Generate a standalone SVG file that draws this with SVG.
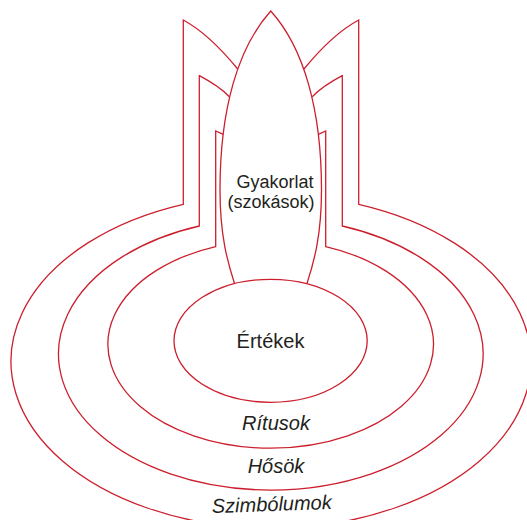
<svg xmlns="http://www.w3.org/2000/svg" width="527" height="520" viewBox="0 0 527 520">
  <style>
    .line { fill: none; stroke: #cc1f2d; stroke-width: 1.3; stroke-linejoin: miter; }
    .label { font-family: "Liberation Sans", Arial, sans-serif; fill: #231f20; text-anchor: middle; }
    .ring { font-style: italic; font-size: 20px; }
  </style>
  <rect width="527" height="520" fill="#ffffff"/>

  <!-- outermost layer: symbols -->
  <g id="symbols">
    <path class="line" d="M237.7,69 Q209,34 183.3,20 L183.3,204.3 A260,166.8 0 1 0 358.7,204.3 L358.7,20 Q332.6,34 304,69"/>
    <text class="label ring" x="272" y="511" font-size="20.5" transform="rotate(-2 272 511)">Szimbólumok</text>
  </g>

  <!-- second layer: heroes -->
  <g id="heroes">
    <path class="line" d="M229.3,96.7 Q219,86 199.3,75.7 L199.3,226 A212.3,136 0 1 0 342.3,226 L342.3,75.7 Q322.6,86 312.3,96.7"/>
    <text class="label ring" x="276" y="473.3">Hősök</text>
  </g>

  <!-- third layer: rituals -->
  <g id="rituals">
    <path class="line" d="M223.3,134.3 L215.7,131 L215.7,246.7 A162.8,103.8 0 1 0 325.7,246.7 L325.7,131 L318.3,134.3"/>
    <text class="label ring" x="276" y="430">Rítusok</text>
  </g>

  <!-- practices: pointed leaf crossing all outer layers -->
  <g id="practices">
    <path class="line" d="M307,283.5 C314,262 321.5,235 321.5,190 C321.5,110 304,48 270.75,11 C237.5,48 220,110 220,190 C220,235 227.5,262 234.5,283.5"/>
    <text class="label" x="275" y="187.5" font-size="18">Gyakorlat</text>
    <text class="label" x="271" y="207.5" font-size="18">(szokások)</text>
  </g>

  <!-- core: values -->
  <g id="values">
    <ellipse class="line" cx="270.6" cy="340.8" rx="96.6" ry="61.5"/>
    <text class="label" x="270.5" y="348.3" font-size="20">Értékek</text>
  </g>
</svg>
